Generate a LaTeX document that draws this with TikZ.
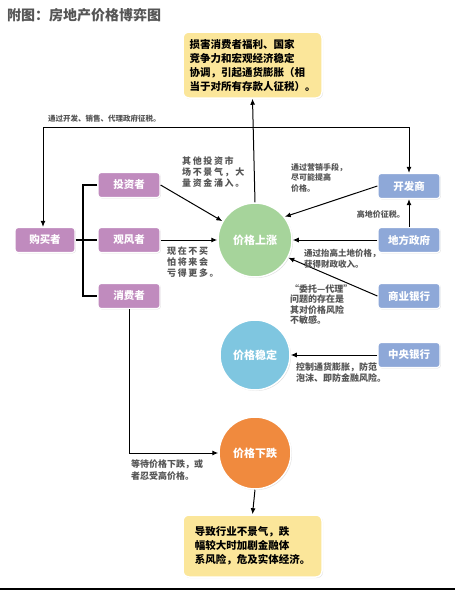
\documentclass[tikz,border=0pt]{standalone}
\usepackage{fontspec}
\newfontfamily\cjk{Noto Sans CJK SC}
\newfontfamily\cjksp[LetterSpace=18]{Noto Sans CJK SC}
\usetikzlibrary{arrows.meta,shadows}
\definecolor{purp}{HTML}{C08BBE}
\definecolor{blu}{HTML}{8EA8D8}
\definecolor{grn}{HTML}{A6D49B}
\definecolor{sky}{HTML}{7FC6E0}
\definecolor{org}{HTML}{F08A3E}
\definecolor{yel}{HTML}{FBE69A}
\definecolor{lbl}{HTML}{555555}
\tikzset{
  actor/.style={rectangle,rounded corners=3pt,minimum width=62pt,minimum height=25pt,draw=white,line width=1.2pt,
    text=white,font=\cjk\bfseries\fontsize{10.5}{12}\selectfont,drop shadow={opacity=0.25,shadow xshift=0.8pt,shadow yshift=-0.8pt}},
  pbox/.style={actor,fill=purp},
  bbox/.style={actor,fill=blu},
  state/.style={circle,minimum size=74pt,draw=white,line width=1.5pt,text=white,
    font=\cjk\bfseries\fontsize{11}{13}\selectfont,drop shadow={opacity=0.25,shadow xshift=1pt,shadow yshift=-1pt}},
  note/.style={rectangle,rounded corners=6pt,fill=yel,draw=white,line width=1.5pt,minimum width=139pt,
    align=left,text=black,font=\cjk\bfseries\fontsize{10.5}{14}\selectfont,inner sep=0pt,
    drop shadow={opacity=0.2,shadow xshift=1pt,shadow yshift=-1pt}},
  lab/.style={align=left,text=lbl,inner sep=0pt,anchor=north west},
  conn/.style={line width=1pt,-{Latex[length=6pt,width=5pt]}},
  plain/.style={line width=1.2pt}
}
\newcommand{\lf}[2]{\cjk\bfseries\fontsize{#1}{#2}\selectfont}
\newcommand{\lfs}[2]{\cjksp\bfseries\fontsize{#1}{#2}\selectfont}
\begin{document}
\begin{tikzpicture}[x=1pt,y=-1pt]
\useasboundingbox (0,0) rectangle (455,590);
\fill[white] (0,0) rectangle (455,590);
\draw[line width=1.5pt] (0,589) -- (455,589);

\node[anchor=west,text=lbl,font=\cjk\bfseries\fontsize{14}{16}\selectfont,inner sep=0pt] (title) at (7,15) {附图：房地产价格博弈图};

% top and bottom notes
\node[note,minimum height=66pt] (top) at (252.5,65) {损害消费者福利、国家\\竞争力和宏观经济稳定\\协调，引起通货膨胀（相\\当于对所有存款人征税）。};
\node[note,minimum height=62pt] (bot) at (252.5,546) {导致行业不景气，跌\\幅较大时加剧金融体\\系风险，危及实体经济。};

% actors
\node[pbox,minimum width=60pt] (buy) at (45,240) {购买者};
\node[pbox] (inv) at (129,185) {投资者};
\node[pbox] (wat) at (129,240) {观风者};
\node[pbox] (con) at (129,296) {消费者};
\node[bbox] (dev) at (409,186) {开发商};
\node[bbox] (gov) at (409,240) {地方政府};
\node[bbox] (bank) at (409,296) {商业银行};
\node[bbox] (cb) at (409,355) {中央银行};

% states
\node[state,fill=grn] (up) at (255,240) {价格上涨};
\node[state,fill=sky,minimum size=70pt] (st) at (255,355) {价格稳定};
\node[state,fill=org,minimum size=72pt] (down) at (255,453) {价格下跌};

% bracket
\coordinate (br) at (83,240);
\draw[plain] (buy.east) -- (br);
\draw[plain] (inv.west) -| (br) |- (con.west);
\draw[plain] (br) -- (wat.west);

% top loop
\coordinate (tl) at (43,127);
\draw[conn,{Latex[length=6pt,width=5pt]}-{Latex[length=6pt,width=5pt]}] (buy.north -| tl) -- (tl) -- (tl -| dev.north) -- (dev.north);
\node[lab,anchor=south west,font=\lf{7.5}{9}] (ltop) at (48,122) {通过开发、销售、代理政府征税。};

% to top note
\draw[conn] (up.north) -- (top.south);

% arrows into price up
\draw[conn] (inv.east) -- (up.150);
\draw[conn] (wat.east) -- (up.west);
\draw[conn] (dev.west) -- (up.38);
\draw[conn] (gov.west) -- (up.east);
\draw[conn] (bank.west) -- (up.-28);
\draw[conn] (gov.north) -- (dev.south);
\draw[conn] (cb.west) -- (st.east);
\draw[conn] (con.south) |- (down.west);
\draw[conn] (down.south) -- (bot.north);

% labels
\node[lab,font=\lfs{9}{11}] (l1) at (182,156) {其他投资市\\场不景气，大\\量资金涌入。};
\node[lab,font=\lfs{9}{11}] (l2) at (167,247) {现在不买\\怕将来会\\亏得更多。};
\node[lab,font=\lf{8}{10.5}] (l3) at (291,163) {通过营销手段，\\尽可能提高\\价格。};
\node[lab,anchor=east,font=\lf{8}{10}] (l4) at (405,214) {高地价征税。};
\node[lab,font=\lf{8.5}{11}] (l5) at (304,249) {通过抬高土地价格，\\获得财政收入。};
\node[lab,font=\lf{9}{10.5}] (l6) at (290,284) {“委托—代理”\\问题的存在是\\其对价格风险\\不敏感。};
\node[lab,font=\lf{9}{11}] (l7) at (296,363) {控制通货膨胀，防范\\泡沫、即防金融风险。};
\node[lab,font=\lf{9}{11.5}] (l8) at (131,460) {等待价格下跌，或\\者忍受高价格。};
\end{tikzpicture}
\end{document}
